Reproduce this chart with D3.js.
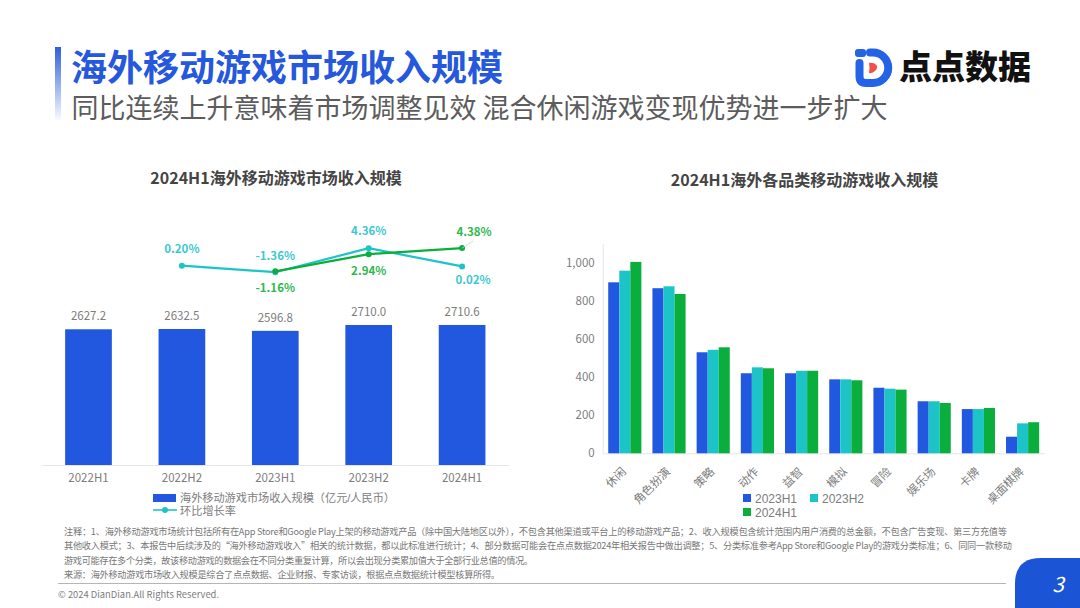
<!DOCTYPE html>
<html>
<head>
<meta charset="utf-8">
<script src="https://cdn.jsdelivr.net/npm/d3@7"></script>
<style>
html, body { margin: 0; padding: 0; background: #fff; }
svg { display: block; }
text { font-family: "Noto Sans CJK SC", "Noto Sans", sans-serif; }
.tight { font-family: "Liberation Sans", "Noto Sans CJK SC", sans-serif; }
</style>
</head>
<body>
<div id="chart"></div>
<script>
// left chart
var periods = ['2022H1', '2022H2', '2023H1', '2023H2', '2024H1'];
var revenue = [2627.2, 2632.5, 2596.8, 2710.0, 2710.6];
var qoqRate = [null, 0.20, -1.36, 4.36, 0.02];
var yoyRate = [null, null, -1.16, 2.94, 4.38];

// right chart
var genres = ['休闲', '角色扮演', '策略', '动作', '益智', '模拟', '冒险', '娱乐场', '卡牌', '桌面棋牌'];
var h1of2023 = [897, 866, 530, 420, 420, 388, 344, 273, 232, 87];
var h2of2023 = [958, 876, 543, 451, 433, 388, 339, 273, 232, 157];
var h1of2024 = [1004, 836, 556, 446, 433, 383, 334, 264, 238, 163];
var genreSeries = ['2023H1', '2023H2', '2024H1'];
var genreTicks = [0, 200, 400, 600, 800, 1000];

var notes = [
  '注释：1、海外移动游戏市场统计包括所有在App Store和Google Play上架的移动游戏产品（除中国大陆地区以外），不包含其他渠道或平台上的移动游戏产品；2、收入规模包含统计范围内用户消费的总金额，不包含广告变现、第三方充值等',
  '其他收入模式；3、本报告中后续涉及的“海外移动游戏收入”相关的统计数据，都以此标准进行统计；4、部分数据可能会在点点数据2024年相关报告中做出调整；5、分类标准参考App Store和Google Play的游戏分类标准；6、同同一款移动',
  '游戏可能存在多个分类，故该移动游戏的数据会在不同分类重复计算，所以会出现分类累加值大于全部行业总值的情况。',
  '来源：海外移动游戏市场收入规模是综合了点点数据、企业财报、专家访谈，根据点点数据统计模型核算所得。'
];

var BLUE = '#2258e0', TEAL = '#1cc4c8', GREEN = '#0aae3c';
var GREY = '#7d7d7d';

var svg = d3.select('#chart').append('svg')
  .attr('width', 1080)
  .attr('height', 608);

// header
var defs = svg.append('defs');
var fade = defs.append('linearGradient')
  .attr('id', 'accentFade')
  .attr('x1', 0).attr('y1', 0).attr('x2', 0).attr('y2', 1);
fade.append('stop').attr('offset', '0%').attr('stop-color', '#2f5fdc');
fade.append('stop').attr('offset', '100%').attr('stop-color', '#2f5fdc').attr('stop-opacity', 0.03);

svg.append('rect')
  .attr('x', 55).attr('y', 47).attr('width', 6).attr('height', 73)
  .attr('fill', 'url(#accentFade)');

svg.append('text')
  .attr('x', 71).attr('y', 80.5)
  .attr('font-size', 36)
  .attr('font-weight', 700)
  .attr('fill', '#2558dc')
  .text('海外移动游戏市场收入规模');

svg.append('text')
  .attr('x', 71.5).attr('y', 118)
  .attr('font-size', 27)
  .attr('fill', '#5c5c5c')
  .text('同比连续上升意味着市场调整见效 混合休闲游戏变现优势进一步扩大');

// logo
var logo = svg.append('g');
logo.append('rect')
  .attr('x', 855).attr('y', 49).attr('width', 11).attr('height', 8).attr('rx', 3)
  .attr('fill', '#2563e6');
logo.append('path')
  .attr('d', 'M870 52.5H873A15 15 0 0 1 873 83H866Q859.5 83 859.5 76V63')
  .attr('fill', 'none')
  .attr('stroke', '#2563e6')
  .attr('stroke-width', 8)
  .attr('stroke-linecap', 'round');
logo.append('path')
  .attr('d', 'M869 63C875 62 878 66 877 68C876 71 872 74 869 73Q870 68 869 63Z')
  .attr('fill', '#f0524a');
logo.append('text')
  .attr('x', 899).attr('y', 79)
  .attr('font-size', 33)
  .attr('font-weight', 900)
  .attr('fill', '#111')
  .text('点点数据');

// chart titles
svg.append('text')
  .attr('x', 276).attr('y', 183.5)
  .attr('text-anchor', 'middle')
  .attr('font-size', 16)
  .attr('font-weight', 700)
  .attr('fill', '#444')
  .text('2024H1海外移动游戏市场收入规模');

svg.append('text')
  .attr('x', 804.5).attr('y', 185.5)
  .attr('text-anchor', 'middle')
  .attr('font-size', 16)
  .attr('font-weight', 700)
  .attr('fill', '#444')
  .text('2024H1海外各品类移动游戏收入规模');

// ---- left chart ----
var xLeft = d3.scaleBand()
  .domain(periods)
  .range([41.8, 508.8])
  .paddingInner(0.5)
  .paddingOuter(0.25);

var yLeft = d3.scaleLinear()
  .domain([0, 2710])
  .range([465, 325]);

var yRate = d3.scaleLinear()
  .domain([-2, 5])
  .range([274.9, 245.5]);

var leftAxis = svg.append('g')
  .attr('transform', 'translate(0,465)')
  .call(d3.axisBottom(xLeft).tickSize(0).tickPadding(9));
leftAxis.select('.domain').attr('stroke', '#e3e6ec');
leftAxis.selectAll('text')
  .attr('font-size', 11.5)
  .attr('fill', GREY);

var revenueRows = periods.map(function(p, i) { return { period: p, value: revenue[i] }; });

svg.append('g').selectAll('rect')
  .data(revenueRows)
  .enter()
  .append('rect')
  .attr('x', function(d) { return xLeft(d.period); })
  .attr('y', function(d) { return yLeft(d.value); })
  .attr('width', xLeft.bandwidth())
  .attr('height', function(d) { return 465 - yLeft(d.value); })
  .attr('fill', BLUE);

svg.append('g').selectAll('text')
  .data(revenueRows)
  .enter()
  .append('text')
  .attr('x', function(d) { return xLeft(d.period) + xLeft.bandwidth() / 2; })
  .attr('y', function(d) { return yLeft(d.value) - 9; })
  .attr('text-anchor', 'middle')
  .attr('font-size', 11.5)
  .attr('fill', GREY)
  .text(function(d) { return d.value.toFixed(1); });

function drawRateLine(values, color) {
  var rows = periods.map(function(p, i) { return { period: p, value: values[i] }; })
    .filter(function(d) { return d.value !== null; });
  var line = d3.line()
    .x(function(d) { return xLeft(d.period) + xLeft.bandwidth() / 2; })
    .y(function(d) { return yRate(d.value); });
  svg.append('path')
    .datum(rows)
    .attr('d', line)
    .attr('fill', 'none')
    .attr('stroke', color)
    .attr('stroke-width', 2.2);
  svg.append('g').selectAll('circle')
    .data(rows)
    .enter()
    .append('circle')
    .attr('cx', function(d) { return xLeft(d.period) + xLeft.bandwidth() / 2; })
    .attr('cy', function(d) { return yRate(d.value); })
    .attr('r', 3)
    .attr('fill', color);
}

drawRateLine(qoqRate, TEAL);
drawRateLine(yoyRate, GREEN);

// leader from the last green point to its label
var lastX = xLeft('2024H1') + xLeft.bandwidth() / 2;
svg.append('line')
  .attr('x1', lastX).attr('y1', yRate(4.38))
  .attr('x2', lastX + 11).attr('y2', yRate(4.38) - 7)
  .attr('stroke', '#cfcfcf')
  .attr('stroke-width', 0.8);

function rateLabel(period, value, dx, dy, color) {
  svg.append('text')
    .attr('x', xLeft(period) + xLeft.bandwidth() / 2 + dx)
    .attr('y', yRate(value) + dy)
    .attr('text-anchor', 'middle')
    .attr('font-size', 11.5)
    .attr('font-weight', 700)
    .attr('fill', color)
    .text(value.toFixed(2) + '%');
}
rateLabel('2022H2', 0.20, 0, -12.5, '#3cc8d0');
rateLabel('2023H1', -1.36, 0, -12, '#3cc8d0');
rateLabel('2023H2', 4.36, 0, -13, '#3cc8d0');
rateLabel('2024H1', 0.02, 11, 18, '#3cc8d0');
rateLabel('2023H1', -1.16, 0, 21, '#2fb84f');
rateLabel('2023H2', 2.94, 0, 20.5, '#2fb84f');
rateLabel('2024H1', 4.38, 12, -12.5, '#2fb84f');

// left legend
svg.append('rect')
  .attr('x', 153).attr('y', 494).attr('width', 23).attr('height', 8)
  .attr('fill', BLUE);
svg.append('text')
  .attr('class', 'tight')
  .attr('x', 180).attr('y', 502)
  .attr('font-size', 11.2)
  .attr('fill', GREY)
  .attr('textLength', 215)
  .attr('lengthAdjust', 'spacing')
  .text('海外移动游戏市场收入规模（亿元/人民币）');
svg.append('line')
  .attr('x1', 153).attr('x2', 177).attr('y1', 510).attr('y2', 510)
  .attr('stroke', TEAL).attr('stroke-width', 1.6);
svg.append('circle')
  .attr('cx', 165).attr('cy', 510).attr('r', 3)
  .attr('fill', TEAL);
svg.append('text')
  .attr('class', 'tight')
  .attr('x', 180).attr('y', 514.5)
  .attr('font-size', 11.2)
  .attr('fill', GREY)
  .text('环比增长率');

// ---- right chart ----
var xRight = d3.scaleBand()
  .domain(genres)
  .range([602.7, 1044.7])
  .paddingInner(0.25)
  .paddingOuter(0.125);

var xSeries = d3.scaleBand()
  .domain(genreSeries)
  .range([0, xRight.bandwidth()]);

var yRight = d3.scaleLinear()
  .domain([0, 1100])
  .range([453.3, 243.6]);

var seriesColor = d3.scaleOrdinal()
  .domain(genreSeries)
  .range([BLUE, TEAL, GREEN]);

var rightY = svg.append('g')
  .attr('transform', 'translate(602.7,0)')
  .call(d3.axisLeft(yRight).tickValues(genreTicks).tickSize(0).tickPadding(8).tickFormat(d3.format(',')));
rightY.select('.domain').attr('stroke', '#e3e6ec');
rightY.selectAll('text')
  .attr('font-size', 11.5)
  .attr('fill', GREY);

var rightX = svg.append('g')
  .attr('transform', 'translate(0,453.3)')
  .call(d3.axisBottom(xRight).tickSize(0));
rightX.select('.domain').attr('stroke', '#e3e6ec');
rightX.selectAll('text')
  .attr('font-size', 11.5)
  .attr('fill', GREY)
  .attr('text-anchor', 'end')
  .attr('dy', 0)
  .attr('y', 0)
  .attr('transform', 'translate(2,19) rotate(-45)');

[h1of2023, h2of2023, h1of2024].forEach(function(values, s) {
  var name = genreSeries[s];
  svg.append('g').selectAll('rect')
    .data(values)
    .enter()
    .append('rect')
    .attr('x', function(d, i) { return xRight(genres[i]) + xSeries(name); })
    .attr('y', function(d) { return yRight(d); })
    .attr('width', xSeries.bandwidth())
    .attr('height', function(d) { return 453.3 - yRight(d); })
    .attr('fill', seriesColor(name));
});

// right legend
var legendX = d3.scalePoint().domain(genreSeries.slice(0, 2)).range([743, 810]);
genreSeries.forEach(function(name, i) {
  var lx = i < 2 ? legendX(name) : legendX(genreSeries[0]);
  var ly = i < 2 ? 494 : 508;
  svg.append('rect')
    .attr('x', lx).attr('y', ly).attr('width', 8).attr('height', 8)
    .attr('fill', seriesColor(name));
  svg.append('text')
    .attr('class', 'tight')
    .attr('x', lx + 12).attr('y', ly + 8.5)
    .attr('font-size', 12)
    .attr('fill', GREY)
    .text(name);
});

// notes, footer
var noteWidths = [943, 948, 469, 436];
svg.append('g').selectAll('text')
  .data(notes)
  .enter()
  .append('text')
  .attr('x', 64)
  .attr('y', function(d, i) { return [534.5, 548.5, 563.5, 578][i]; })
  .attr('font-size', 9.2)
  .attr('fill', '#777')
  .attr('textLength', function(d, i) { return noteWidths[i]; })
  .attr('lengthAdjust', 'spacing')
  .text(function(d) { return d; });

svg.append('line')
  .attr('x1', 58).attr('x2', 1006).attr('y1', 583.5).attr('y2', 583.5)
  .attr('stroke', '#b5b5b5').attr('stroke-width', 1);

svg.append('text')
  .attr('x', 58).attr('y', 598)
  .attr('font-size', 9.4)
  .attr('fill', '#7d7d7d')
  .text('© 2024 DianDian.All Rights Reserved.');

svg.append('path')
  .attr('d', 'M1015 608V584Q1015 558 1041 558H1080V608Z')
  .attr('fill', '#1b55d5');
svg.append('text')
  .attr('x', 1058).attr('y', 592)
  .attr('text-anchor', 'middle')
  .attr('font-size', 21)
  .attr('font-style', 'italic')
  .attr('fill', '#fff')
  .text('3');
</script>
</body>
</html>
